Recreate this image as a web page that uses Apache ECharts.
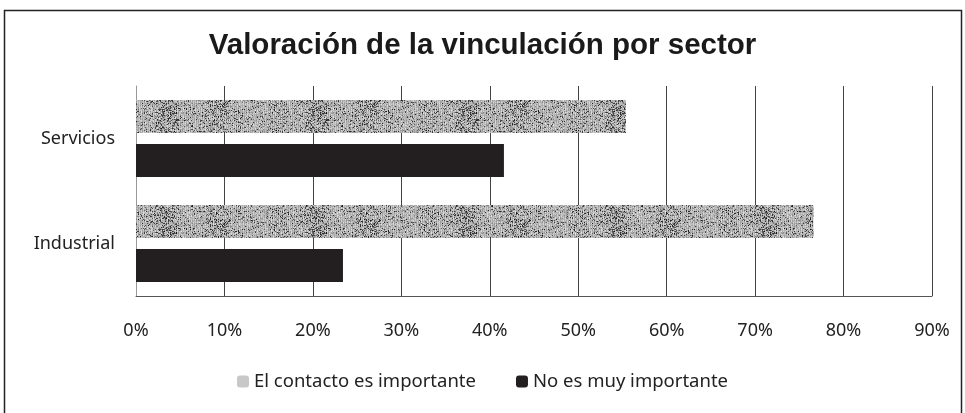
<!DOCTYPE html>
<html>
<head>
<meta charset="utf-8">
<script src="https://cdn.jsdelivr.net/npm/echarts@6/dist/echarts.min.js"></script>
<style>
  html, body { margin: 0; padding: 0; background: #fff; }
  #myChart { width: 965px; height: 413px; }
</style>
</head>
<body>
<div id="myChart"></div>
<script>
// datos
const sectores = ['Servicios', 'Industrial'];
const contactoImportante = [55.4, 76.6];
const noMuyImportante = [41.6, 23.4];
const serieNombres = ['El contacto es importante', 'No es muy importante'];
const ticksX = [0, 10, 20, 30, 40, 50, 60, 70, 80, 90];

// textura gris moteada (solo estilo)
function texturaGris() {
  const c = document.createElement('canvas');
  c.width = 150; c.height = 40;
  const ctx = c.getContext('2d');
  let s = 11;
  const rnd = () => { s = (s * 16807) % 2147483647; return s / 2147483647; };
  for (let x = 0; x < c.width; x++) {
    // manchas más oscuras en algunas zonas
    const mancha = Math.sin(x / 9) * 0.6 + Math.sin(x / 23) * 0.4;
    for (let y = 0; y < c.height; y++) {
      const base = (x % 2 === 0) ? 185 : 210;
      let v = base - rnd() * 55 + rnd() * 25;
      if (rnd() < 0.12 + Math.max(0, mancha) * 0.3) v -= 70 + rnd() * 70;
      v = Math.max(25, Math.min(245, v));
      ctx.fillStyle = 'rgb(' + v + ',' + v + ',' + v + ')';
      ctx.fillRect(x, y, 1, 1);
    }
  }
  return c;
}

let myChart = echarts.init(document.getElementById('myChart'));
const patron = { image: texturaGris(), repeat: 'repeat' };
const fuente = 'Noto Sans';

myChart.setOption({
  animation: false,
  graphic: [{
    type: 'rect',
    shape: { x: 4.5, y: 10.5, width: 957, height: 410 },
    style: { fill: 'none', stroke: '#222', lineWidth: 1.5 }
  }],
  title: {
    text: 'Valoración de la vinculación por sector',
    left: 'center',
    top: 26,
    textStyle: { fontFamily: 'Liberation Sans', fontWeight: 'bold', fontSize: 29.5, color: '#1a1a1a' }
  },
  legend: {
    bottom: 17,
    left: 'center',
    itemWidth: 12,
    itemHeight: 12,
    itemGap: 40,
    textStyle: { fontFamily: fuente, fontSize: 18.5, color: '#222' },
    data: [
      { name: serieNombres[0], itemStyle: { color: '#c8c8c8' } },
      { name: serieNombres[1] }
    ]
  },
  grid: { left: 136, right: 33, top: 86, bottom: 117, containLabel: false },
  xAxis: {
    type: 'value',
    min: 0,
    max: 90,
    interval: 10,
    axisLine: { show: true, lineStyle: { color: '#555', width: 1 } },
    axisTick: { show: false },
    axisLabel: {
      formatter: v => (ticksX.indexOf(v) >= 0 ? v + '%' : ''),
      fontFamily: fuente,
      fontSize: 18,
      color: '#222',
      margin: 26
    },
    splitLine: { show: true, lineStyle: { color: '#444', width: 1 } }
  },
  yAxis: {
    type: 'category',
    inverse: true,
    data: sectores,
    axisLine: { show: true, lineStyle: { color: '#999', width: 1 } },
    axisTick: { show: false },
    axisLabel: { fontFamily: fuente, fontSize: 18, color: '#222', margin: 21 }
  },
  series: [
    {
      name: serieNombres[0],
      type: 'bar',
      data: contactoImportante,
      barWidth: 33,
      barGap: '33%',
      itemStyle: { color: patron }
    },
    {
      name: serieNombres[1],
      type: 'bar',
      data: noMuyImportante,
      barWidth: 33,
      itemStyle: { color: '#231f20' }
    }
  ]
});
</script>
</body>
</html>
